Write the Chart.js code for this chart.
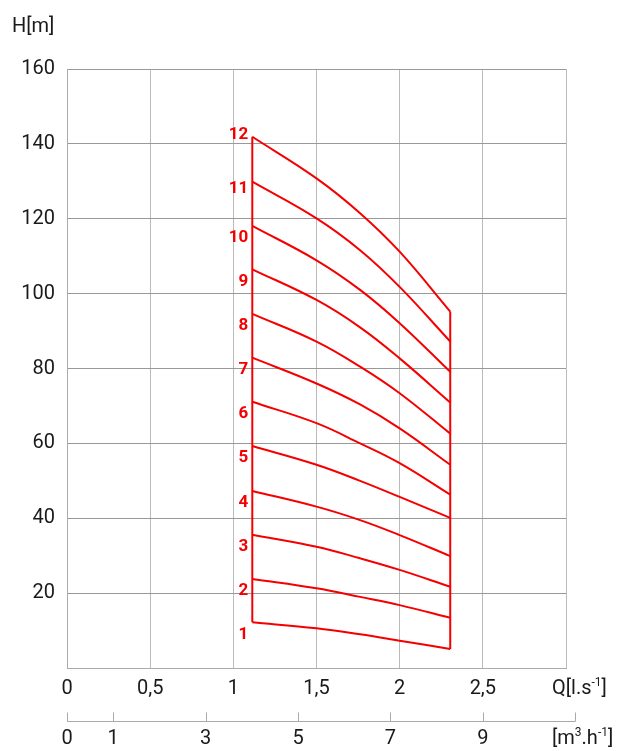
<!DOCTYPE html>
<html>
<head>
<meta charset="utf-8">
<script src="https://cdn.jsdelivr.net/npm/chart.js@4"></script>
<style>
  body { margin: 0; background: #fff; }
  #wrap { width: 619px; height: 751px; }
</style>
</head>
<body>
<div id="wrap"><canvas id="pumpChart"></canvas></div>
<script>
const flowPoints = [1.114, 1.5, 1.762, 2.0, 2.304];

// Head (m) for each number of stages, at the flow points above
const stage1 = [12.2, 10.6, 9.0, 7.3, 5.1];
const stage2 = [23.8, 21.3, 19.0, 16.8, 13.4];
const stage3 = [35.6, 32.4, 29.3, 26.2, 21.7];
const stage4 = [47.3, 43.1, 39.5, 35.5, 29.9];
const stage5 = [59.3, 54.3, 50.0, 45.7, 40.1];
const stage6 = [71.1, 65.4, 60.0, 54.7, 46.3];
const stage7 = [82.9, 76.0, 70.4, 64.0, 54.3];
const stage8 = [94.6, 87.2, 80.5, 73.4, 62.6];
const stage9 = [106.5, 98.3, 91.0, 82.7, 70.9];
const stage10 = [118.1, 108.9, 101.0, 92.1, 79.1];
const stage11 = [129.9, 120.1, 111.6, 101.8, 87.2];
const stage12 = [141.9, 130.8, 121.5, 111.2, 95.2];

const stages = [stage1, stage2, stage3, stage4, stage5, stage6,
                stage7, stage8, stage9, stage10, stage11, stage12];
const stageLabels = ['1', '2', '3', '4', '5', '6', '7', '8', '9', '10', '11', '12'];

// Axis ticks
const headTicks = [20, 40, 60, 80, 100, 120, 140, 160];
const flowTicks = [0, 0.5, 1, 1.5, 2, 2.5];
const m3hTicks = [0, 1, 3, 5, 7, 9];
const m3hAxisEnd = 11;
const lsToM3h = 3.6;

const RED = 'rgb(245, 0, 0)';
const FONT = "Roboto, 'Liberation Sans', sans-serif";

const datasets = stages.map((heads, i) => ({
    label: stageLabels[i],
    data: heads.map((h, j) => ({ x: flowPoints[j], y: h })),
    borderColor: RED,
    borderWidth: 2,
    pointRadius: 0,
    tension: 0.4,
    fill: false
}));

// Left and right edges of the working range
const last = flowPoints.length - 1;
datasets.push({
    label: 'min',
    data: [{ x: flowPoints[0], y: stage1[0] }, { x: flowPoints[0], y: stage12[0] }],
    borderColor: RED, borderWidth: 2, pointRadius: 0, tension: 0
});
datasets.push({
    label: 'max',
    data: [{ x: flowPoints[last], y: stage1[last] }, { x: flowPoints[last], y: stage12[last] }],
    borderColor: RED, borderWidth: 2, pointRadius: 0, tension: 0
});

// draws text with superscript parts: [[text, isSup], ...]
function drawRich(ctx, parts, x, y, size) {
    let cx = x;
    parts.forEach(([t, sup]) => {
        ctx.font = (sup ? Math.round(size * 0.6) : size) + 'px ' + FONT;
        ctx.fillText(t, cx, sup ? y - size * 0.3 : y);
        cx += ctx.measureText(t).width;
    });
}

const extras = {
    id: 'extras',
    afterDraw(chart) {
        const ctx = chart.ctx;
        const xs = chart.scales.x;
        const ys = chart.scales.y;
        const x2 = chart.scales.x2;
        ctx.save();

        // axis titles
        ctx.fillStyle = '#1a1a1a';
        ctx.textBaseline = 'middle';
        ctx.textAlign = 'left';
        drawRich(ctx, [['H[m]', false]], 12, 27, 20);
        drawRich(ctx, [['Q[l.s', false], ['-1', true], [']', false]], 552, 689, 20);
        drawRich(ctx, [['[m', false], ['3', true], ['.h', false], ['-1', true], [']', false]], 552, 739, 20);

        // secondary flow axis (m3/h): line with ticks pointing up
        const lineY = 721.5;
        ctx.strokeStyle = '#aaa';
        ctx.lineWidth = 1;
        ctx.beginPath();
        ctx.moveTo(x2.getPixelForValue(0), lineY);
        ctx.lineTo(x2.getPixelForValue(m3hAxisEnd), lineY);
        m3hTicks.concat([m3hAxisEnd]).forEach(v => {
            const px = Math.round(x2.getPixelForValue(v)) + 0.5;
            ctx.moveTo(px, lineY);
            ctx.lineTo(px, lineY - 9);
        });
        ctx.stroke();

        // stage numbers beside the left edge
        ctx.fillStyle = RED;
        ctx.font = 'bold 17px ' + FONT;
        ctx.textAlign = 'right';
        ctx.textBaseline = 'middle';
        stages.forEach((heads, i) => {
            const off = i === 11 ? -2 : (i === 10 ? 7 : 12);
            const px = xs.getPixelForValue(flowPoints[0]) - 4;
            const py = ys.getPixelForValue(heads[0]) + off;
            ctx.fillText(stageLabels[i], px, py);
        });
        ctx.restore();
    }
};

new Chart(document.getElementById('pumpChart'), {
    type: 'line',
    data: { datasets: datasets },
    options: {
        responsive: true,
        maintainAspectRatio: false,
        animation: false,
        layout: { padding: { top: 69, right: 53, left: 0, bottom: 0 } },
        plugins: {
            legend: { display: false },
            tooltip: { enabled: false }
        },
        scales: {
            x: {
                type: 'linear',
                position: 'bottom',
                weight: 1,
                min: 0,
                max: 3,
                afterBuildTicks: s => { s.ticks = flowTicks.concat([3]).map(v => ({ value: v })); },
                afterFit: s => { s.height = 40; },
                grid: { color: '#bbb', drawTicks: false },
                border: { color: '#aaa' },
                ticks: {
                    padding: 9,
                    maxRotation: 0,
                    autoSkip: false,
                    color: '#1a1a1a',
                    font: { family: FONT, size: 20 },
                    callback: v => flowTicks.includes(v) ? String(v).replace('.', ',') : ''
                }
            },
            x2: {
                type: 'linear',
                position: 'bottom',
                weight: 2,
                min: 0,
                max: 3 * lsToM3h,
                afterBuildTicks: s => { s.ticks = m3hTicks.map(v => ({ value: v })); },
                afterFit: s => { s.height = 43; },
                grid: { display: false, drawTicks: false },
                border: { display: false },
                ticks: {
                    padding: 19,
                    maxRotation: 0,
                    autoSkip: false,
                    color: '#1a1a1a',
                    font: { family: FONT, size: 20 }
                }
            },
            y: {
                type: 'linear',
                min: 0,
                max: 160,
                afterBuildTicks: s => { s.ticks = [0].concat(headTicks).map(v => ({ value: v })); },
                afterFit: s => { s.width = 67; },
                grid: { color: '#999', drawTicks: false },
                border: { color: '#aaa' },
                ticks: {
                    padding: 12,
                    color: '#1a1a1a',
                    font: { family: FONT, size: 20 },
                    callback: v => headTicks.includes(v) ? String(v) : ''
                }
            }
        }
    },
    plugins: [extras]
});
</script>
</body>
</html>
